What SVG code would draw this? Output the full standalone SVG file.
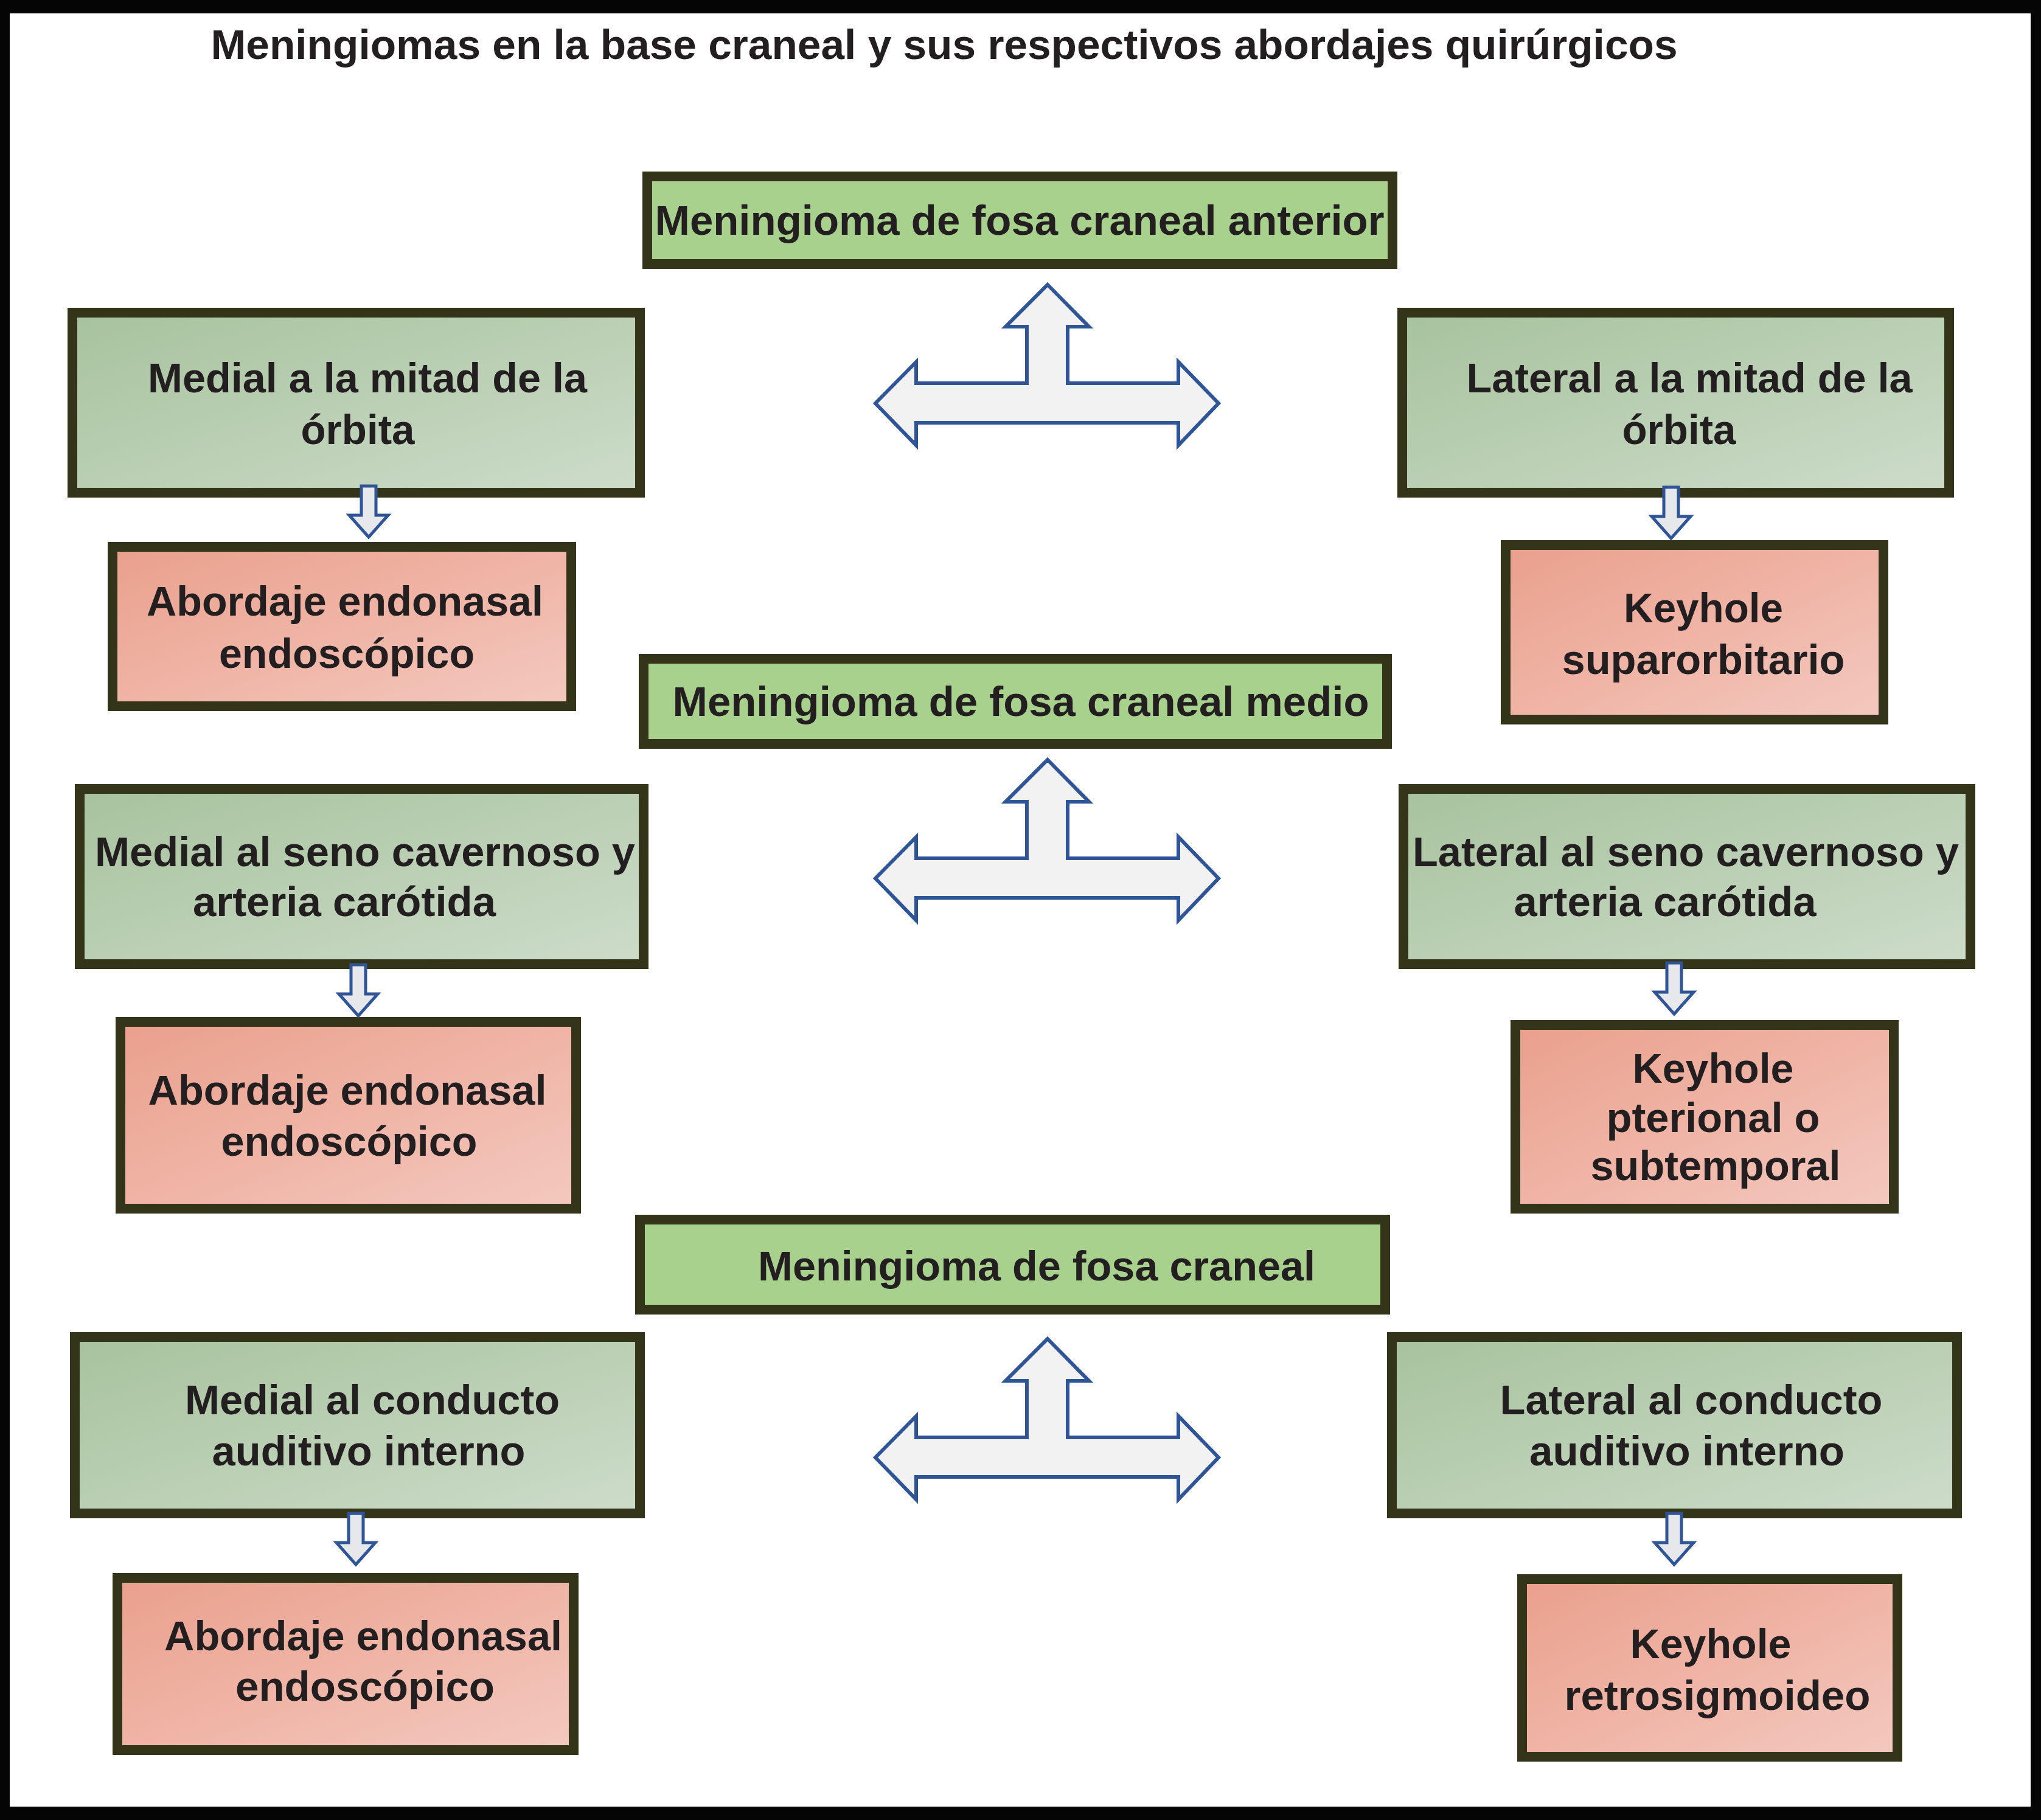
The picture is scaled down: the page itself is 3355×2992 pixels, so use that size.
<svg xmlns="http://www.w3.org/2000/svg" xmlns:xlink="http://www.w3.org/1999/xlink" width="3355" height="2992" viewBox="0 0 3355 2992">
<style>
.t{font-family:"Liberation Sans",Arial,Helvetica,sans-serif;font-weight:bold;font-size:69px;fill:#231f20;text-anchor:middle}
.hdr{fill:#a9d18e;stroke:#343418;stroke-width:16}
.grn{fill:url(#gGreen);stroke:#343418;stroke-width:16}
.red{fill:url(#gRed);stroke:#343418;stroke-width:16}
.tarrow{fill:#f2f2f2;stroke:#2f5597;stroke-width:6;stroke-linejoin:miter}
.darrow{fill:#e7e8ec;stroke:#2f5597;stroke-width:5;stroke-linejoin:miter}
</style>
<defs>
<linearGradient id="gGreen" x1="0" y1="0" x2="1" y2="1">
<stop offset="0" stop-color="#a7c29d"/>
<stop offset="1" stop-color="#cddcca"/>
</linearGradient>
<linearGradient id="gRed" x1="0" y1="0" x2="1" y2="1">
<stop offset="0" stop-color="#ea9f8c"/>
<stop offset="1" stop-color="#f4c9bf"/>
</linearGradient>
<path id="tArrow" d="M1722,468 L1790,537 L1755,537 L1755,630 L1937,630 L1937,595 L2003,663 L1937,732 L1937,695 L1506,695 L1506,732 L1439,663 L1506,595 L1506,630 L1688,630 L1688,537 L1653,537 Z"/>
<path id="dArrow" d="M-12,0 H12 V48 H32 L0,84 L-32,48 H-12 Z"/>
</defs>
<rect x="0" y="0" width="3355" height="2992" fill="#050505"/>
<rect x="16" y="22" width="3322" height="2948" fill="#ffffff"/>
<text class="t" x="1552" y="97" textLength="2411" lengthAdjust="spacingAndGlyphs">Meningiomas en la base craneal y sus respectivos abordajes quirúrgicos</text>

<g id="hdrA">
<rect class="hdr" x="1064" y="290" width="1225" height="144"/>
<text class="t" x="1676" y="386" textLength="1199" lengthAdjust="spacingAndGlyphs">Meningioma de fosa craneal anterior</text>
</g>
<g id="L1">
<rect class="grn" x="119" y="514" width="933" height="296"/>
<text class="t" x="604" y="645" textLength="722" lengthAdjust="spacingAndGlyphs">Medial a la mitad de la</text>
<text class="t" x="588" y="730" textLength="187" lengthAdjust="spacingAndGlyphs">órbita</text>
</g>
<g id="L1r">
<rect class="red" x="185" y="899" width="754" height="262"/>
<text class="t" x="567" y="1012" textLength="652" lengthAdjust="spacingAndGlyphs">Abordaje endonasal</text>
<text class="t" x="570" y="1098" textLength="420" lengthAdjust="spacingAndGlyphs">endoscópico</text>
</g>
<g id="R1">
<rect class="grn" x="2305" y="514" width="899" height="296"/>
<text class="t" x="2777" y="645" textLength="733" lengthAdjust="spacingAndGlyphs">Lateral a la mitad de la</text>
<text class="t" x="2760" y="730" textLength="187" lengthAdjust="spacingAndGlyphs">órbita</text>
</g>
<g id="R1r">
<rect class="red" x="2475" y="896" width="621" height="287"/>
<text class="t" x="2800" y="1023" textLength="262" lengthAdjust="spacingAndGlyphs">Keyhole</text>
<text class="t" x="2800" y="1108" textLength="465" lengthAdjust="spacingAndGlyphs">suparorbitario</text>
</g>

<g id="hdrB">
<rect class="hdr" x="1058" y="1083" width="1222" height="140"/>
<text class="t" x="1678" y="1177" textLength="1145" lengthAdjust="spacingAndGlyphs">Meningioma de fosa craneal medio</text>
</g>
<g id="L2">
<rect class="grn" x="131" y="1297" width="927" height="288"/>
<text class="t" x="600" y="1424" textLength="888" lengthAdjust="spacingAndGlyphs">Medial al seno cavernoso y</text>
<text class="t" x="566" y="1506" textLength="498" lengthAdjust="spacingAndGlyphs">arteria carótida</text>
</g>
<g id="L2r">
<rect class="red" x="198" y="1680" width="749" height="307"/>
<text class="t" x="571" y="1816" textLength="655" lengthAdjust="spacingAndGlyphs">Abordaje endonasal</text>
<text class="t" x="574" y="1900" textLength="421" lengthAdjust="spacingAndGlyphs">endoscópico</text>
</g>
<g id="R2">
<rect class="grn" x="2307" y="1297" width="932" height="288"/>
<text class="t" x="2771" y="1424" textLength="898" lengthAdjust="spacingAndGlyphs">Lateral al seno cavernoso y</text>
<text class="t" x="2737" y="1506" textLength="497" lengthAdjust="spacingAndGlyphs">arteria carótida</text>
</g>
<g id="R2r">
<rect class="red" x="2491" y="1685" width="622" height="302"/>
<text class="t" x="2816" y="1780" textLength="265" lengthAdjust="spacingAndGlyphs">Keyhole</text>
<text class="t" x="2816" y="1861" textLength="351" lengthAdjust="spacingAndGlyphs">pterional o</text>
<text class="t" x="2820" y="1940" textLength="411" lengthAdjust="spacingAndGlyphs">subtemporal</text>
</g>

<g id="hdrC">
<rect class="hdr" x="1052" y="2005" width="1225" height="148"/>
<text class="t" x="1704" y="2105" textLength="916" lengthAdjust="spacingAndGlyphs">Meningioma de fosa craneal</text>
</g>
<g id="L3">
<rect class="grn" x="123" y="2198" width="929" height="290"/>
<text class="t" x="612" y="2325" textLength="616" lengthAdjust="spacingAndGlyphs">Medial al conducto</text>
<text class="t" x="606" y="2409" textLength="515" lengthAdjust="spacingAndGlyphs">auditivo interno</text>
</g>
<g id="L3r">
<rect class="red" x="193" y="2594" width="750" height="283"/>
<text class="t" x="597" y="2713" textLength="654" lengthAdjust="spacingAndGlyphs">Abordaje endonasal</text>
<text class="t" x="600" y="2796" textLength="426" lengthAdjust="spacingAndGlyphs">endoscópico</text>
</g>
<g id="R3">
<rect class="grn" x="2288" y="2198" width="929" height="290"/>
<text class="t" x="2780" y="2325" textLength="629" lengthAdjust="spacingAndGlyphs">Lateral al conducto</text>
<text class="t" x="2773" y="2409" textLength="518" lengthAdjust="spacingAndGlyphs">auditivo interno</text>
</g>
<g id="R3r">
<rect class="red" x="2502" y="2596" width="617" height="292"/>
<text class="t" x="2812" y="2726" textLength="265" lengthAdjust="spacingAndGlyphs">Keyhole</text>
<text class="t" x="2823" y="2811" textLength="503" lengthAdjust="spacingAndGlyphs">retrosigmoideo</text>
</g>

<g id="connectors">
<use xlink:href="#tArrow" class="tarrow"/>
<use xlink:href="#tArrow" class="tarrow" transform="translate(0,781)"/>
<use xlink:href="#tArrow" class="tarrow" transform="translate(0,1733)"/>
<use xlink:href="#dArrow" class="darrow" transform="translate(606,799)"/>
<use xlink:href="#dArrow" class="darrow" transform="translate(2747,801)"/>
<use xlink:href="#dArrow" class="darrow" transform="translate(589,1586)"/>
<use xlink:href="#dArrow" class="darrow" transform="translate(2752,1583)"/>
<use xlink:href="#dArrow" class="darrow" transform="translate(585,2488)"/>
<use xlink:href="#dArrow" class="darrow" transform="translate(2752,2488)"/>
</g>
</svg>
